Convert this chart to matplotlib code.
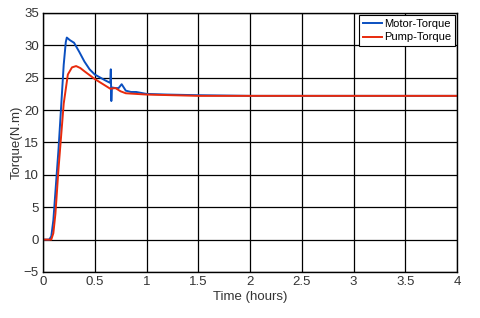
import numpy as np
import matplotlib.pyplot as plt

plt.rcParams['font.family'] = ['Liberation Sans Narrow', 'Liberation Sans', 'DejaVu Sans']

# data
t_motor = [0, 0.06, 0.08, 0.1, 0.15, 0.2, 0.22, 0.23, 0.26, 0.3, 0.35, 0.4, 0.45,
           0.5, 0.6, 0.65, 0.655, 0.66, 0.665, 0.7, 0.73, 0.76, 0.8, 0.85, 0.9,
           1.0, 1.2, 1.5, 2.0, 4.0]
motor = [0, 0, 0.5, 3, 14, 27, 30.5, 31.2, 30.8, 30.4, 29, 27.5, 26.3,
         25.5, 24.6, 24.2, 26.3, 21.4, 23.5, 23.4, 23.4, 24.0, 23.0, 22.8, 22.8,
         22.5, 22.4, 22.3, 22.2, 22.2]

t_pump = [0, 0.08, 0.1, 0.12, 0.15, 0.2, 0.24, 0.28, 0.32, 0.36, 0.4, 0.5, 0.6,
          0.65, 0.7, 0.75, 0.8, 1.0, 1.5, 4.0]
pump = [0, 0, 1, 4, 11, 21, 25.5, 26.6, 26.8, 26.5, 26, 24.8, 23.8,
        23.3, 23.4, 22.9, 22.6, 22.4, 22.2, 22.2]

xticks = [0, 0.5, 1, 1.5, 2, 2.5, 3, 3.5, 4]
xlabels = ['0', '0.5', '1', '1.5', '2', '2.5', '3', '3.5', '4']
yticks = list(range(-5, 40, 5))

fig = plt.figure(figsize=(4.8, 3.18), dpi=100)
ax = fig.add_axes([0.0896, 0.1447, 0.8625, 0.8145])

ax.plot(t_motor, motor, color='#0a4fc0', lw=1.4, label='Motor-Torque')
ax.plot(t_pump, pump, color='#e82a0c', lw=1.4, label='Pump-Torque')

ax.set_xlim(0, 4)
ax.set_ylim(-5, 35)
ax.set_xticks(xticks)
ax.set_xticklabels(xlabels)
ax.set_yticks(yticks)
ax.grid(True, color='black', lw=0.9)
ax.tick_params(labelsize=9.5, labelcolor='#333333', length=0, pad=3)
for s in ax.spines.values():
    s.set_color('black')
    s.set_linewidth(1.0)

ax.set_xlabel('Time (hours)', fontsize=9.5, color='#333333', labelpad=2)
ax.set_ylabel('Torque(N.m)', fontsize=9.5, color='#333333', labelpad=1)

leg = ax.legend(loc='upper right', fontsize=8, frameon=True, fancybox=False,
                handlelength=1.7, handletextpad=0.2, borderpad=0.35,
                labelspacing=0.35, borderaxespad=0.15, framealpha=1)
leg.get_frame().set_edgecolor('black')
leg.get_frame().set_linewidth(0.8)

fig.savefig('out.png', dpi=100)
